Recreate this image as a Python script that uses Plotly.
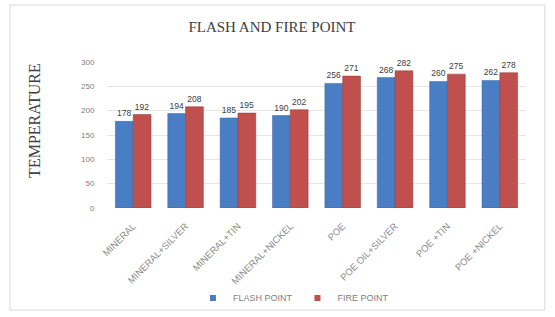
import plotly.graph_objects as go

categories = ["MINERAL", "MINERAL+SILVER", "MINERAL+TIN", "MINERAL+NICKEL",
              "POE", "POE OIL+SILVER", "POE +TIN", "POE +NICKEL"]
flash_point = [178, 194, 185, 190, 256, 268, 260, 262]
fire_point = [192, 208, 195, 202, 271, 282, 275, 278]
y_ticks = [0, 50, 100, 150, 200, 250, 300]

BLUE = "#4A7EC4"
RED = "#C0504D"

fig = go.Figure()
fig.add_trace(go.Bar(
    x=categories, y=flash_point, name="FLASH POINT", showlegend=False,
    marker=dict(color=BLUE, line=dict(color="#3A64A0", width=0.5)),
    text=[str(v) for v in flash_point], textposition="outside",
    textfont=dict(size=8.5, color="#404040", family="Liberation Sans"),
    cliponaxis=False,
))
fig.add_trace(go.Bar(
    x=categories, y=fire_point, name="FIRE POINT", showlegend=False,
    marker=dict(color=RED, line=dict(color="#953735", width=0.5)),
    text=[str(v) for v in fire_point], textposition="outside",
    textfont=dict(size=8.5, color="#404040", family="Liberation Sans"),
    cliponaxis=False,
))
# legend entries with small square markers
fig.add_trace(go.Scatter(x=[None], y=[None], mode="markers", name="FLASH POINT",
                         marker=dict(symbol="square", size=6, color=BLUE)))
fig.add_trace(go.Scatter(x=[None], y=[None], mode="markers", name="FIRE POINT",
                         marker=dict(symbol="square", size=6, color=RED)))

fig.update_layout(
    width=555, height=317,
    margin=dict(l=107, r=29, t=62, b=109, autoexpand=False),
    paper_bgcolor="white", plot_bgcolor="white",
    barmode="group", bargap=0.32, bargroupgap=0.0,
    title=dict(text="FLASH AND FIRE POINT", x=0.49, xanchor="center",
               y=1 - 27 / 317, yanchor="middle",
               font=dict(family="Liberation Serif", size=15, color="#404040")),
    showlegend=True,
    legend=dict(orientation="h", x=0.445, xanchor="center", y=-0.616, yanchor="middle",
                bgcolor="rgba(0,0,0,0)",
                font=dict(size=9, color="#7F7F7F", family="Liberation Sans"),
                itemwidth=30, tracegroupgap=0),
    xaxis=dict(tickangle=-45, tickfont=dict(size=9.5, color="#8C8C8C", family="Liberation Sans"),
               showgrid=False, showline=False, ticks="outside", ticklen=8, tickcolor="white",
               automargin=False),
    yaxis=dict(range=[0, 300], tickvals=y_ticks, automargin=False,
               ticks="outside", ticklen=10, tickcolor="white",
               tickfont=dict(size=8, color="#808080", family="Liberation Sans"),
               showgrid=True, gridcolor="#E6E6E6", zeroline=False, showline=False),
    annotations=[dict(text="TEMPERATURE", xref="paper", yref="paper",
                      x=-0.172, y=0.603, xanchor="center", yanchor="middle",
                      textangle=-90, showarrow=False,
                      font=dict(family="Liberation Serif", size=16, color="#404040"))],
    shapes=[dict(type="rect", xref="paper", yref="paper",
                 x0=-0.2315, x1=1.045, y0=-0.699, y1=1.39,
                 line=dict(color="#D9D9D9", width=1))],
)

fig.write_html("out.html", post_script="document.body.style.margin='0';",
               config={"displayModeBar": False})
